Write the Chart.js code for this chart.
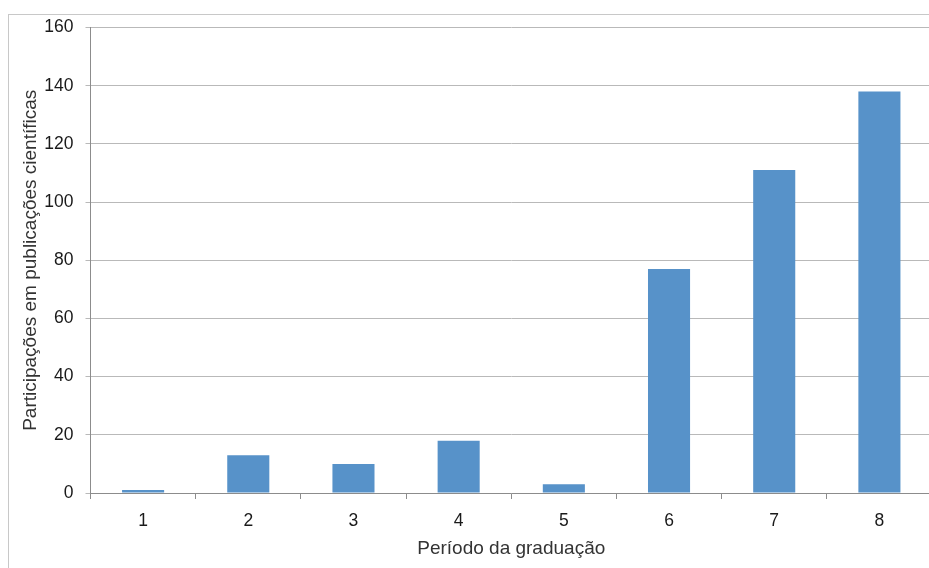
<!DOCTYPE html>
<html>
<head>
<meta charset="utf-8">
<script src="https://cdn.jsdelivr.net/npm/chart.js@4"></script>
<style>
  html, body { margin: 0; padding: 0; background: #fff; overflow: hidden; }
  #frame {
    position: absolute; left: 8px; top: 14px; width: 921px; height: 554px;
    border-left: 1px solid #c8c8c8; border-top: 1px solid #c8c8c8;
    overflow: hidden;
  }
  #c { position: absolute; left: 0; top: -10px; }
</style>
</head>
<body>
<div id="frame"><canvas id="c" width="935" height="563"></canvas></div>
<script>
const periodos = ['1', '2', '3', '4', '5', '6', '7', '8'];
const participacoes = [1, 13, 10, 18, 3, 77, 111, 138];
const yTicks = [0, 20, 40, 60, 80, 100, 120, 140, 160];

const font = "'Liberation Sans', Arial, sans-serif";

new Chart(document.getElementById('c'), {
  type: 'bar',
  data: {
    labels: periodos,
    datasets: [{
      data: participacoes,
      backgroundColor: '#5792c9',
      borderWidth: 0,
      barPercentage: 0.4,
      categoryPercentage: 1.0
    }]
  },
  options: {
    responsive: false,
    animation: false,
    layout: { padding: { top: 1, right: 12, bottom: 0, left: 0 } },
    plugins: { legend: { display: false }, tooltip: { enabled: false } },
    scales: {
      x: {
        offset: true,
        grid: {
          offset: true,
          drawOnChartArea: false,
          drawTicks: true,
          tickLength: 6,
          color: '#8c8c8c'
        },
        border: { color: '#8c8c8c', width: 1 },
        ticks: { color: '#1a1a1a', font: { family: font, size: 17.5 }, padding: 12 },
        title: {
          display: true,
          text: 'Período da graduação',
          color: '#333',
          font: { family: font, size: 19 },
          padding: { top: 6, bottom: 8 }
        },
        afterFit: s => { s.height = 75; }
      },
      y: {
        min: 0,
        max: 160,
        afterBuildTicks: s => { s.ticks = yTicks.map(v => ({ value: v })); },
        grid: {
          color: '#b9b9b9',
          lineWidth: 1,
          tickLength: 5,
          drawTicks: true
        },
        border: { color: '#8c8c8c', width: 1 },
        ticks: { color: '#1a1a1a', font: { family: font, size: 17.5 }, padding: 12 },
        title: {
          display: true,
          text: 'Participações em publicações científicas',
          color: '#333',
          font: { family: font, size: 19 },
          padding: { top: 10, bottom: 4 }
        },
        afterFit: s => { s.width = 81.5; }
      }
    }
  }
});
</script>
</body>
</html>
